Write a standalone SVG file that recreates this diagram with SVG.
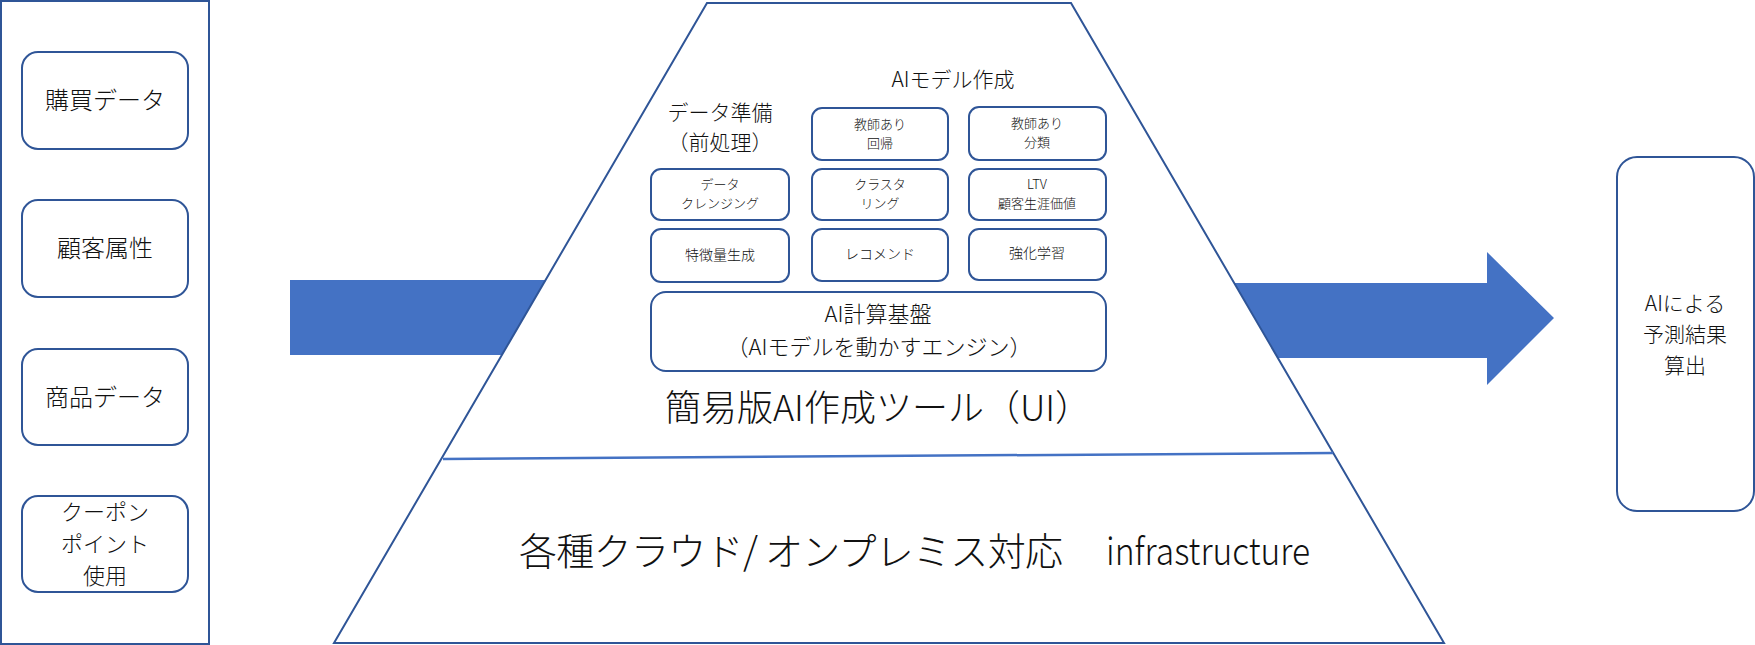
<svg xmlns="http://www.w3.org/2000/svg" width="1755" height="645" viewBox="0 0 1755 645">
<style>
  .box { fill: #ffffff; stroke: #2F5597; stroke-width: 2; }
  .t { font-family: 'Noto Sans CJK JP', 'Noto Sans', sans-serif; font-weight: 300; fill: #111111; text-anchor: middle; }
  .l24 { font-size: 24px; }
  .l22 { font-size: 22px; }
  .l21 { font-size: 21px; }
  .s14 { font-size: 14px; }
  .s13 { font-size: 13px; }
  .arrow { fill: #4472C4; }
</style>
<rect width="1755" height="645" fill="#ffffff"/>

<g id="connectors">
  <rect class="arrow" x="290" y="280" width="420" height="75"/>
  <polygon class="arrow" points="1150,283 1487,283 1487,252 1554,318 1487,385 1487,358 1150,358"/>
</g>

<g id="data-sources">
  <rect x="1" y="1" width="208" height="643" fill="#ffffff" stroke="#2F5597" stroke-width="2"/>
  <g id="purchase-data">
    <rect class="box" x="22" y="52" width="166" height="97" rx="16"/>
    <text class="t l24" x="105" y="109">購買データ</text>
  </g>
  <g id="customer-attr">
    <rect class="box" x="22" y="200" width="166" height="97" rx="16"/>
    <text class="t l24" x="105" y="257">顧客属性</text>
  </g>
  <g id="product-data">
    <rect class="box" x="22" y="349" width="166" height="96" rx="16"/>
    <text class="t l24" x="105" y="406">商品データ</text>
  </g>
  <g id="coupon">
    <rect class="box" x="22" y="496" width="166" height="96" rx="16"/>
    <text class="t l22" x="105" y="520">クーポン</text>
    <text class="t l22" x="105" y="552">ポイント</text>
    <text class="t l22" x="105" y="584">使用</text>
  </g>
</g>

<g id="platform">
  <polygon points="707,3 1071,3 1444,643 334,643" fill="#ffffff" stroke="#2F5597" stroke-width="2"/>
  <line x1="443" y1="459" x2="1333" y2="453" stroke="#4472C4" stroke-width="2.5"/>
  <text class="t" x="878" y="421" font-size="36">簡易版AI作成ツール（UI）</text>
  <text class="t" x="519" y="565" font-size="38" style="text-anchor:start" textLength="544">各種クラウド/ オンプレミス対応</text>
  <text class="t" x="1106" y="565" font-size="38" style="text-anchor:start" textLength="204" lengthAdjust="spacingAndGlyphs">infrastructure</text>
</g>

<g id="labels">
  <text class="t l21" x="953" y="87">AIモデル作成</text>
  <text class="t l21" x="720" y="120">データ準備</text>
  <text class="t l21" x="720" y="150">（前処理）</text>
</g>

<g id="regression">
  <rect class="box" x="812" y="108" width="136" height="52" rx="10"/>
  <text class="t s13" x="880" y="129">教師あり</text>
  <text class="t s13" x="880" y="148">回帰</text>
</g>
<g id="classification">
  <rect class="box" x="969" y="107" width="137" height="53" rx="10"/>
  <text class="t s13" x="1037" y="128">教師あり</text>
  <text class="t s13" x="1037" y="147">分類</text>
</g>
<g id="cleansing">
  <rect class="box" x="651" y="169" width="138" height="51" rx="10"/>
  <text class="t s13" x="720" y="189">データ</text>
  <text class="t s13" x="720" y="208">クレンジング</text>
</g>
<g id="clustering">
  <rect class="box" x="812" y="169" width="136" height="51" rx="10"/>
  <text class="t s13" x="880" y="189">クラスタ</text>
  <text class="t s13" x="880" y="208">リング</text>
</g>
<g id="ltv">
  <rect class="box" x="969" y="169" width="137" height="51" rx="10"/>
  <text class="t s13" x="1037" y="189">LTV</text>
  <text class="t s13" x="1037" y="208">顧客生涯価値</text>
</g>
<g id="feature">
  <rect class="box" x="651" y="229" width="138" height="53" rx="10"/>
  <text class="t s14" x="720" y="260">特徴量生成</text>
</g>
<g id="recommend">
  <rect class="box" x="812" y="229" width="136" height="52" rx="10"/>
  <text class="t s14" x="880" y="259">レコメンド</text>
</g>
<g id="reinforcement">
  <rect class="box" x="969" y="229" width="137" height="51" rx="10"/>
  <text class="t s14" x="1037" y="258">強化学習</text>
</g>
<g id="compute-base">
  <rect class="box" x="651" y="292" width="455" height="79" rx="15"/>
  <text class="t" x="878" y="322" font-size="22">AI計算基盤</text>
  <text class="t l22" x="879" y="355">（AIモデルを動かすエンジン）</text>
</g>

<g id="prediction">
  <rect class="box" x="1617" y="157" width="137" height="354" rx="20"/>
  <text class="t" font-size="21" x="1685" y="311">AIによる</text>
  <text class="t" font-size="21" x="1685" y="342">予測結果</text>
  <text class="t" font-size="21" x="1685" y="373">算出</text>
</g>
</svg>
